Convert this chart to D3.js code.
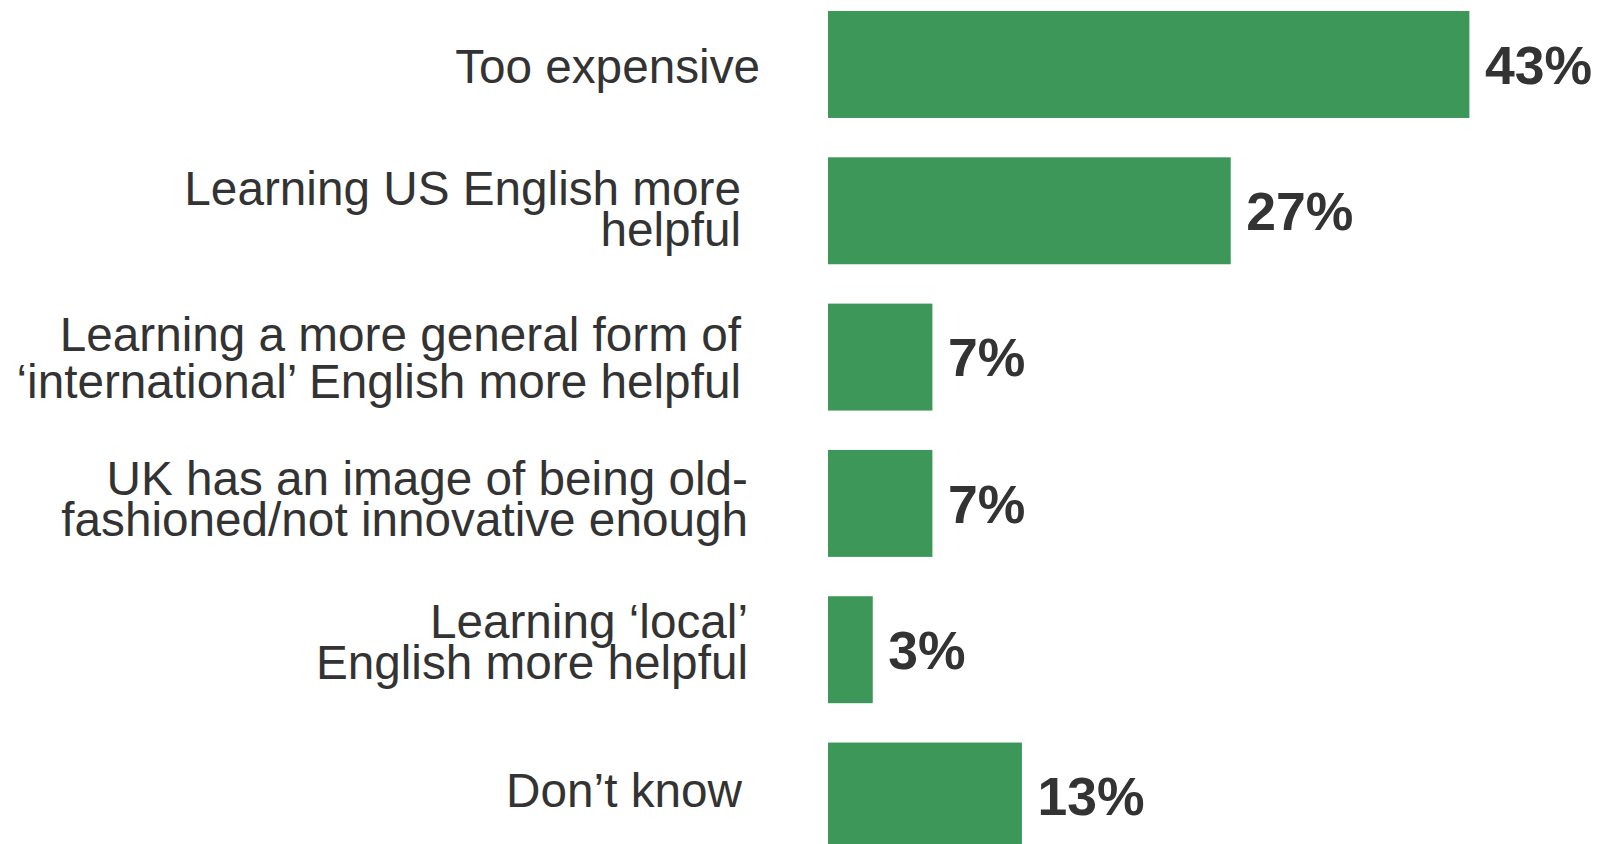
<!DOCTYPE html>
<html>
<head>
<meta charset="utf-8">
<script src="https://cdn.jsdelivr.net/npm/d3@7"></script>
<style>
  html, body { margin: 0; padding: 0; background: #ffffff; overflow: hidden; }
  svg { display: block; }
</style>
</head>
<body>
<div id="chart"></div>
<script>
// Reasons given, share of respondents (%)
const categories = [
  ["Too expensive"],
  ["Learning US English more", "helpful"],
  ["Learning a more general form of", "\u2018international\u2019 English more helpful"],
  ["UK has an image of being old-", "fashioned/not innovative enough"],
  ["Learning \u2018local\u2019", "English more helpful"],
  ["Don\u2019t know"]
];
const values = [43, 27, 7, 7, 3, 13];
const valueLabels = ["43%", "27%", "7%", "7%", "3%", "13%"];

// Label text-box layout (right edge, vertical shift, line spacing)
const labelRight = [760, 741, 741, 748, 748, 742];
const labelShift = [18.4, 14.6, 17.5, 12.5, 9, 10.7];
const labelLineGap = [0, 41, 46.6, 41, 41, 0];

const W = 1600, H = 844;
const barColor = "#3d9758";
const textColor = "#333333";
const catFont = 47.7;
const valFont = 53.5;

const svg = d3.select("#chart").append("svg")
  .attr("width", W).attr("height", H);

const ids = d3.range(values.length);

const x = d3.scaleLinear().domain([0, 43]).range([828, 1469.4]);
const y = d3.scaleBand().domain(ids).range([11, 849.5]).paddingInner(0.269).paddingOuter(0);

// Bars
svg.append("g").selectAll("rect").data(ids).join("rect")
  .attr("x", x(0))
  .attr("y", i => y(i))
  .attr("width", i => x(values[i]) - x(0))
  .attr("height", y.bandwidth())
  .attr("fill", barColor);

// Value labels
svg.append("g").selectAll("text").data(ids).join("text")
  .attr("x", i => x(values[i]) + 15.6)
  .attr("y", i => y(i) + y.bandwidth() / 2 + valFont * 0.36)
  .attr("font-family", "'Liberation Sans', Arial, sans-serif")
  .attr("font-weight", "bold")
  .attr("font-size", valFont)
  .attr("fill", textColor)
  .text(i => valueLabels[i]);

// Category labels, right aligned, one or two lines
const labels = svg.append("g").selectAll("text").data(ids).join("text")
  .attr("text-anchor", "end")
  .attr("font-family", "'Liberation Sans', Arial, sans-serif")
  .attr("font-size", catFont)
  .attr("fill", textColor);

labels.each(function (i) {
  const lines = categories[i];
  const gap = labelLineGap[i];
  const mid = y(i) + y.bandwidth() / 2 + labelShift[i];
  const first = mid - gap * (lines.length - 1) / 2;
  d3.select(this).selectAll("tspan").data(lines).join("tspan")
    .attr("x", labelRight[i])
    .attr("y", (d, k) => first + k * gap)
    .text(d => d);
});
</script>
</body>
</html>
